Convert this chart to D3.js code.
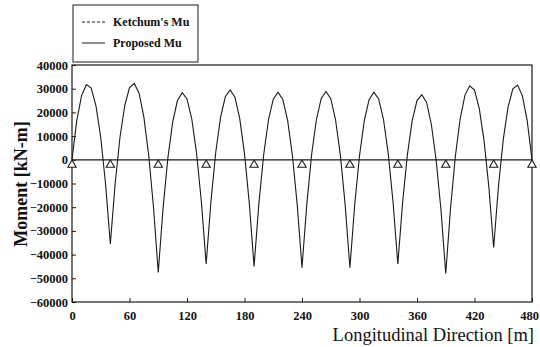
<!DOCTYPE html>
<html><head><meta charset="utf-8">
<script src="https://d3js.org/d3.v7.min.js"></script>
<style>
body { margin: 0; background: #fff; }
text { font-family: "Liberation Serif", "Times New Roman", serif; fill: #111; }
</style>
</head><body>
<svg width="540" height="347"></svg>

<script>
// distance along the bridge (m) and factored moment (kN-m)
var distance = [0, 5, 10, 15, 20, 25, 30, 35, 40,
  45, 50, 55, 60, 65, 70, 75, 80, 85, 90,
  95, 100, 105, 110, 115, 120, 125, 130, 135, 140,
  145, 150, 155, 160, 165, 170, 175, 180, 185, 190,
  195, 200, 205, 210, 215, 220, 225, 230, 235, 240,
  245, 250, 255, 260, 265, 270, 275, 280, 285, 290,
  295, 300, 305, 310, 315, 320, 325, 330, 335, 340,
  345, 350, 355, 360, 365, 370, 375, 380, 385, 390,
  395, 400, 405, 410, 415, 420, 425, 430, 435, 440,
  445, 450, 455, 460, 465, 470, 475, 480];
var proposedMu = [0, 16600, 27100, 31700, 30250, 22800, 9400, -10100, -35500,
  -10200, 9300, 22800, 30500, 32200, 28100, 18000, 2100, -19800, -47500,
  -20500, 600, 15800, 25000, 28300, 25700, 17200, 2700, -17700, -44000,
  -17500, 3200, 17900, 26600, 29500, 26400, 17500, 2600, -18300, -45000,
  -18500, 2100, 16800, 25600, 28500, 25500, 16600, 1800, -18900, -45500,
  -18800, 2100, 16900, 25800, 28800, 25800, 16900, 2100, -18800, -45500,
  -19000, 1700, 16500, 25400, 28500, 25700, 17100, 2600, -17800, -44000,
  -17900, 2200, 16500, 25000, 27500, 24200, 14900, -200, -21100, -48000,
  -20400, 1400, 17200, 27200, 31200, 29400, 21600, 8000, -11600, -37000,
  -11200, 8500, 22200, 29900, 31500, 27000, 16500, 0];
var supports = [0, 40, 90, 140, 190, 240, 290, 340, 390, 440, 480];
var xTicks = [0, 60, 120, 180, 240, 300, 360, 420, 480];
var yTicks = [40000, 30000, 20000, 10000, 0, -10000, -20000, -30000, -40000, -50000, -60000];
var seriesNames = ["Ketchum's Mu", "Proposed Mu"];

var svg = d3.select('svg');
var ink = '#1a1a1a';
var serif = '"Liberation Serif", "Times New Roman", serif';

var x = d3.scaleLinear().domain([0, 480]).range([72, 532]);
var y = d3.scaleLinear().domain([-60000, 40000]).range([302, 65]);

// axes, ticks pointing in
var yAxis = svg.append('g')
  .attr('transform', 'translate(72,0)')
  .call(d3.axisLeft(y).tickValues(yTicks).tickFormat(d3.format('d'))
    .tickSizeInner(-4).tickSizeOuter(0).tickPadding(4));
yAxis.select('.domain').remove();
yAxis.selectAll('text')
  .style('font-family', serif).style('font-size', '12.5px').style('font-weight', 'bold');

var xAxis = svg.append('g')
  .attr('transform', 'translate(0,302)')
  .call(d3.axisBottom(x).tickValues(xTicks).tickFormat(d3.format('d'))
    .tickSizeInner(-4).tickSizeOuter(0).tickPadding(9));
xAxis.select('.domain').remove();
xAxis.selectAll('text')
  .style('font-family', serif).style('font-size', '12.5px').style('font-weight', 'bold')
  .attr('dx', function(d) { return d == 480 ? -3 : 0; });
svg.selectAll('.tick line').attr('stroke', ink);

// frame
svg.append('rect')
  .attr('x', x(0)).attr('y', y(40000))
  .attr('width', x(480) - x(0)).attr('height', y(-60000) - y(40000))
  .attr('fill', 'none').attr('stroke', ink).attr('stroke-width', 1.2);

// zero line
svg.append('line')
  .attr('x1', x(0)).attr('x2', x(480))
  .attr('y1', y(0)).attr('y2', y(0))
  .attr('stroke', ink).attr('stroke-width', 1.2);

// moment envelope
var line = d3.line()
  .x(function(d, i) { return x(distance[i]); })
  .y(function(d) { return y(d); });

svg.append('path')
  .datum(proposedMu)
  .attr('d', line)
  .attr('fill', 'none')
  .attr('stroke', ink)
  .attr('stroke-width', 1.1);

// supports
svg.selectAll('.support')
  .data(supports).enter().append('path')
  .attr('class', 'support')
  .attr('d', d3.symbol().type(d3.symbolTriangle).size(30))
  .attr('transform', function(d) { return 'translate(' + x(d) + ',' + (y(0) + 5) + ')'; })
  .attr('fill', '#fff')
  .attr('stroke', ink)
  .attr('stroke-width', 1.1);

// legend
var legend = svg.append('g');
legend.append('rect')
  .attr('x', 73).attr('y', 5).attr('width', 125).attr('height', 57)
  .attr('fill', '#fff').attr('stroke', ink).attr('stroke-width', 1);
legend.selectAll('.item')
  .data(seriesNames).enter().append('g')
  .attr('transform', function(d, i) { return 'translate(82,' + (22 + i * 21) + ')'; })
  .each(function(d, i) {
    var g = d3.select(this);
    g.append('line').attr('x1', 0).attr('x2', 23)
      .attr('stroke', ink).attr('stroke-width', 1)
      .attr('stroke-dasharray', i == 0 ? '3,2' : null);
    g.append('text').attr('x', 31).attr('y', 4)
      .style('font-size', '12px').style('font-weight', 'bold')
      .text(d);
  });

// titles
svg.append('text')
  .attr('transform', 'translate(27,184) rotate(-90)')
  .attr('text-anchor', 'middle')
  .style('font-size', '18px').style('font-weight', 'bold')
  .text('Moment [kN-m]');

svg.append('text')
  .attr('x', 534).attr('y', 341)
  .attr('text-anchor', 'end')
  .style('font-size', '18.5px')
  .text('Longitudinal Direction [m]');
</script>
</body></html>
